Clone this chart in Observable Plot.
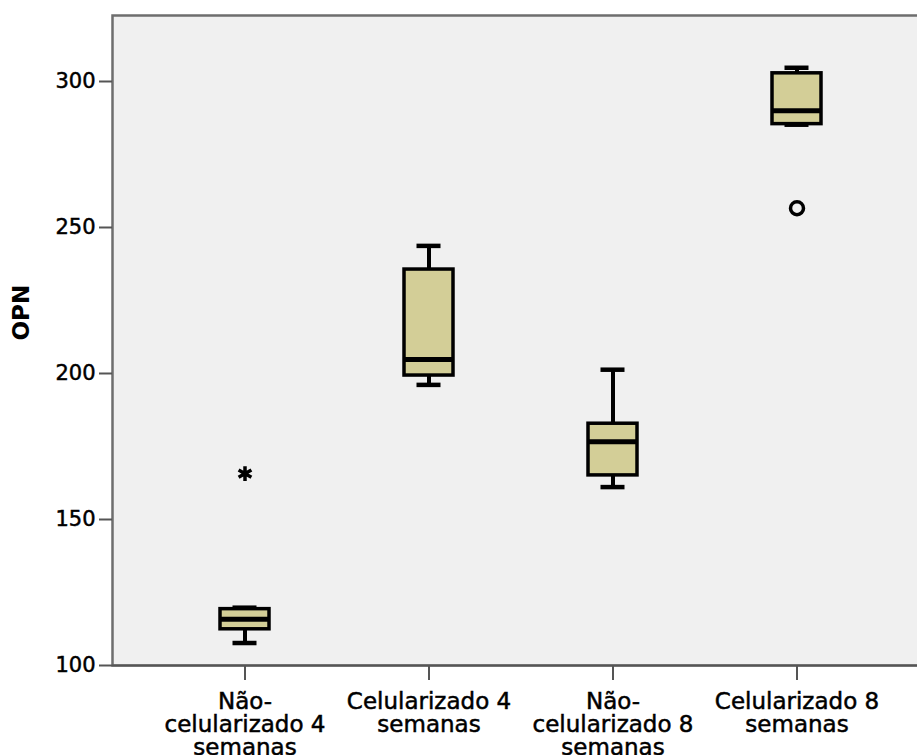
<!DOCTYPE html>
<html>
<head>
<meta charset="utf-8">
<script src="https://cdn.jsdelivr.net/npm/d3@7"></script>
<script src="https://cdn.jsdelivr.net/npm/@observablehq/plot@0.6"></script>
<style>
  html, body { margin: 0; padding: 0; background: #ffffff; }
  #chart { width: 917px; height: 755px; overflow: hidden; }
  .spss [aria-label="y-axis tick label"] text,
  .spss [aria-label="x-axis tick label"] text { stroke: #000; stroke-width: 0.5px; }
</style>
</head>
<body>
<div id="chart"></div>
<script>
const categories = [
  "Não-celularizado 4 semanas",
  "Celularizado 4 semanas",
  "Não-celularizado 8 semanas",
  "Celularizado 8 semanas"
];
const tickLabels = [
  "Não-\ncelularizado 4\nsemanas",
  "Celularizado 4\nsemanas",
  "Não-\ncelularizado 8\nsemanas",
  "Celularizado 8\nsemanas"
];
const whiskerLow  = [107.7, 196.1, 161.1, 285.2];
const q1          = [112.4, 199.3, 165.1, 285.4];
const median      = [115.8, 204.8, 176.6, 290.0];
const q3          = [119.3, 235.6, 182.8, 302.8];
const whiskerHigh = [119.8, 243.7, 201.3, 304.7];

const outlierCat   = ["Celularizado 8 semanas"];
const outlierVal   = [256.6];
const extremeCat   = ["Não-celularizado 4 semanas"];
const extremeVal   = [165.7];

const yTicks = [100, 150, 200, 250, 300];
const yMax = 322.6;

const boxes = categories.map((c, i) => ({
  cat: c, lo: whiskerLow[i], q1: q1[i], med: median[i], q3: q3[i], hi: whiskerHigh[i]
}));
const outliers = outlierCat.map((c, i) => ({cat: c, v: outlierVal[i]}));
const extremes = extremeCat.map((c, i) => ({cat: c, v: extremeVal[i]}));

const font = "'DejaVu Sans', Verdana, sans-serif";

const chart = Plot.plot({
  width: 917,
  height: 755,
  marginTop: 15,
  marginBottom: 90,
  marginLeft: 112,
  marginRight: 0,
  className: "spss",
  style: {fontFamily: font, background: "#ffffff", color: "#000", overflow: "visible"},
  x: {type: "band", domain: categories, range: [112, 928], paddingInner: 0.734, paddingOuter: 0.584, align: 0.5},
  y: {domain: [100, yMax]},
  marks: [
    Plot.frame({fill: "#f0f0f0", stroke: "#6e6e6e", strokeWidth: 2.5, insetRight: -6}),
    Plot.ruleY([100], {stroke: "#555", strokeWidth: 2}),
    // whiskers
    Plot.ruleX(boxes, {x: "cat", y1: "lo", y2: "q1", stroke: "#000", strokeWidth: 4}),
    Plot.ruleX(boxes, {x: "cat", y1: "q3", y2: "hi", stroke: "#000", strokeWidth: 4}),
    Plot.tickY(boxes, {x: "cat", y: "lo", stroke: "#000", strokeWidth: 4.5, insetLeft: 12.5, insetRight: 12.5}),
    Plot.tickY(boxes, {x: "cat", y: "hi", stroke: "#000", strokeWidth: 4.5, insetLeft: 12.5, insetRight: 12.5}),
    // box
    Plot.barY(boxes, {x: "cat", y1: "q1", y2: "q3", fill: "#d3ce97", stroke: "#000", strokeWidth: 3.5}),
    Plot.tickY(boxes, {x: "cat", y: "med", stroke: "#000", strokeWidth: 5}),
    // outliers
    Plot.dot(outliers, {x: "cat", y: "v", r: 6.5, stroke: "#000", strokeWidth: 3.5, fill: "none"}),
    Plot.dot(extremes, {x: "cat", y: "v", symbol: "asterisk", r: 7, stroke: "#000", strokeWidth: 3.5}),
    // axes
    Plot.axisY({ticks: yTicks, tickSize: 13, tickPadding: 4, fontSize: 21, stroke: "#555", strokeWidth: 2, label: null}),
    Plot.axisX({
      tickSize: 15, tickPadding: 12, fontSize: 23, lineHeight: 1.0,
      stroke: "#555", strokeWidth: 2, label: null,
      tickFormat: d => tickLabels[categories.indexOf(d)]
    }),
    Plot.text(["OPN"], {frameAnchor: "left", rotate: -90, dx: -91, fontSize: 23, fontWeight: "bold", fill: "#000"})
  ]
});
document.getElementById("chart").appendChild(chart);
</script>
</body>
</html>
